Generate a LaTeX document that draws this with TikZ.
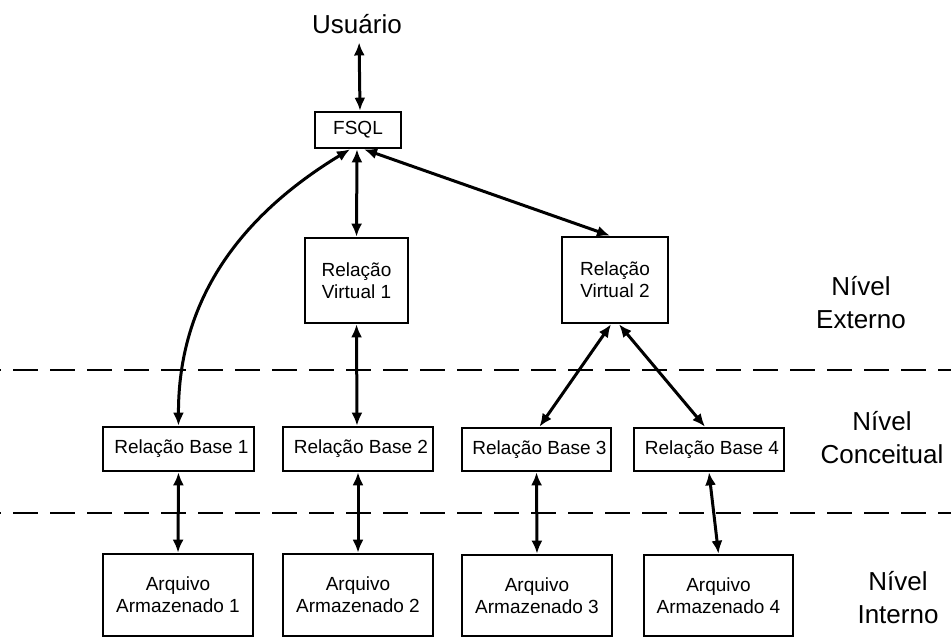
\documentclass[tikz,border=0pt]{standalone}
\usepackage{fontspec}
\setmainfont{Liberation Sans}
\usetikzlibrary{arrows.meta}

\tikzset{
  box/.style={draw, line width=2.6pt, align=center, inner sep=0pt,
              font=\fontsize{19}{22}\selectfont},
  biarrow/.style={line width=3pt,
                  {Latex[length=13pt,width=11pt]}-{Latex[length=13pt,width=11pt]}},
  levelsep/.style={line width=2.6pt, dash pattern=on 25pt off 12pt, dash phase=-13pt},
  level/.style={align=center, font=\fontsize{26}{33}\selectfont, inner sep=0pt},
}

\begin{document}
\begin{tikzpicture}[x=1pt, y=-1pt]
  \useasboundingbox (0,0) rectangle (951,640);

  % user and query front end
  \node[anchor=base, font=\fontsize{26}{30}\selectfont, inner sep=0pt] (usr) at (357,33) {Usuário};
  \node[box, minimum width=86pt, minimum height=36pt] (fsql) at (358,130) {FSQL};

  % external level: virtual relations
  \node[box, minimum width=103pt, minimum height=85pt] (rv1) at (356.5,280.5) {Relação\\Virtual 1};
  \node[box, minimum width=106pt, minimum height=86pt] (rv2) at (615,280) {Relação\\Virtual 2};

  % conceptual level: base relations
  \node[box, minimum width=151pt, minimum height=44pt] (rb1) at (178.5,449) {\hspace*{6pt}Relação Base 1};
  \node[box, minimum width=150pt, minimum height=44pt] (rb2) at (358,449) {\hspace*{6pt}Relação Base 2};
  \node[box, minimum width=149pt, minimum height=43pt] (rb3) at (536.5,449.5) {\hspace*{6pt}Relação Base 3};
  \node[box, minimum width=150pt, minimum height=43pt] (rb4) at (709,449.5) {\hspace*{6pt}Relação Base 4};

  % internal level: stored files
  \node[box, minimum width=150pt, minimum height=82pt] (a1) at (178,595) {Arquivo\\Armazenado 1};
  \node[box, minimum width=150pt, minimum height=82pt] (a2) at (358,595) {Arquivo\\Armazenado 2};
  \node[box, minimum width=150pt, minimum height=81pt] (a3) at (537,595.5) {Arquivo\\Armazenado 3};
  \node[box, minimum width=149pt, minimum height=81pt] (a4) at (718.5,595.5) {Arquivo\\Armazenado 4};

  % level names
  \node[level] (ext) at (861,303) {Nível\\Externo};
  \node[level] (con) at (882,438) {Nível\\Conceitual};
  \node[level] (int) at (898,598) {Nível\\Interno};

  % level boundaries
  \draw[levelsep] (0,370) -- (951,370);
  \draw[levelsep] (0,513) -- (951,513);

  % connections
  \draw[biarrow, shorten <=9pt] ([xshift=2pt]usr.south) -- ([xshift=2pt]fsql.north);
  \draw[biarrow] ([xshift=-1pt]fsql.south) -- (rv1.north);
  \draw[biarrow] ([xshift=6pt]fsql.south) -- ([xshift=-5pt]rv2.north);
  \draw[biarrow] ([xshift=-8pt]fsql.south) .. controls (240,216) and (178,300) .. (rb1.north);
  \draw[biarrow] (rv1.south) -- ([xshift=-1pt]rb2.north);
  \draw[biarrow] ([xshift=-4pt]rv2.south) -- ([xshift=3pt]rb3.north);
  \draw[biarrow] ([xshift=4pt]rv2.south) -- ([xshift=-4pt]rb4.north);
  \draw[biarrow] (rb1.south) -- (a1.north);
  \draw[biarrow] (rb2.south) -- (a2.north);
  \draw[biarrow] (rb3.south) -- (a3.north);
  \draw[biarrow] (rb4.south) -- (a4.north);
\end{tikzpicture}
\end{document}
